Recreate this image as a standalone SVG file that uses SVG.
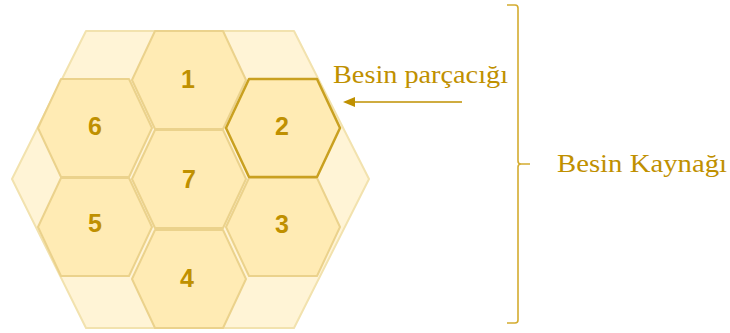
<svg xmlns="http://www.w3.org/2000/svg" xmlns:xlink="http://www.w3.org/1999/xlink" width="730" height="333" viewBox="0 0 730 333">
  <style>
    .outer { fill: #FFF4D6; stroke: #F2E2AE; stroke-width: 2; stroke-linejoin: round; }
    .cell { fill: #FFEBB4; stroke: #EBD28C; stroke-width: 2; stroke-linejoin: round; }
    .sel { fill: #FFEBB4; stroke: #C9A020; stroke-width: 2.5; stroke-linejoin: round; }
    .num { font-family: "Liberation Sans", Arial, sans-serif; font-weight: bold; font-size: 25px; fill: #BF9000; text-anchor: middle; }
    .lbl { font-family: "Liberation Serif", "Times New Roman", serif; font-size: 25px; fill: #BF9000; }
    .line { fill: none; stroke: #BF9000; stroke-width: 1.5; }
    .brace { fill: none; stroke: #D4AC30; stroke-width: 1.6; }
  </style>
  <defs>
    <polygon id="hex" points="-57,0 -34,-49 34,-49 57,0 34,49 -34,49"/>
    <marker id="ah" markerWidth="12" markerHeight="10" refX="0" refY="5" orient="auto" markerUnits="userSpaceOnUse">
      <path d="M0,0 L12,5 L0,10 Z" fill="#BF9000"/>
    </marker>
  </defs>

  <g id="food-source">
    <polygon class="outer" points="12,179 86,31 294,31 369,179 294,328 86,328"/>
  </g>

  <g id="cell-1"><use xlink:href="#hex" class="cell" transform="translate(189,80)"/><text class="num" x="188" y="88">1</text></g>
  <g id="cell-6"><use xlink:href="#hex" class="cell" transform="translate(95,128)"/><text class="num" x="95" y="135">6</text></g>
  <g id="cell-7"><use xlink:href="#hex" class="cell" transform="translate(189,179)"/><text class="num" x="189" y="188">7</text></g>
  <g id="cell-5"><use xlink:href="#hex" class="cell" transform="translate(95,227)"/><text class="num" x="95" y="232">5</text></g>
  <g id="cell-3"><use xlink:href="#hex" class="cell" transform="translate(283,227)"/><text class="num" x="282" y="233">3</text></g>
  <g id="cell-4"><use xlink:href="#hex" class="cell" transform="translate(189,279)"/><text class="num" x="187" y="287">4</text></g>
  <g id="cell-2"><use xlink:href="#hex" class="sel" transform="translate(283,128)"/><text class="num" x="282" y="135">2</text></g>

  <g id="label-particle">
    <text class="lbl" x="333" y="83" textLength="175" lengthAdjust="spacingAndGlyphs">Besin parçacığı</text>
  </g>
  <g id="label-source">
    <text class="lbl" x="557" y="172" textLength="170" lengthAdjust="spacingAndGlyphs">Besin Kaynağı</text>
  </g>

  <g id="connectors">
    <line class="line" x1="462" y1="102" x2="355" y2="102" marker-end="url(#ah)"/>
    <path class="brace" d="M507,5 L515,5 Q518,5 518,8 L518,161 Q518,164 521,164 L530,164 M521,164 Q518,164 518,167 L518,320 Q518,323 515,323 L507,323"/>
  </g>
</svg>
